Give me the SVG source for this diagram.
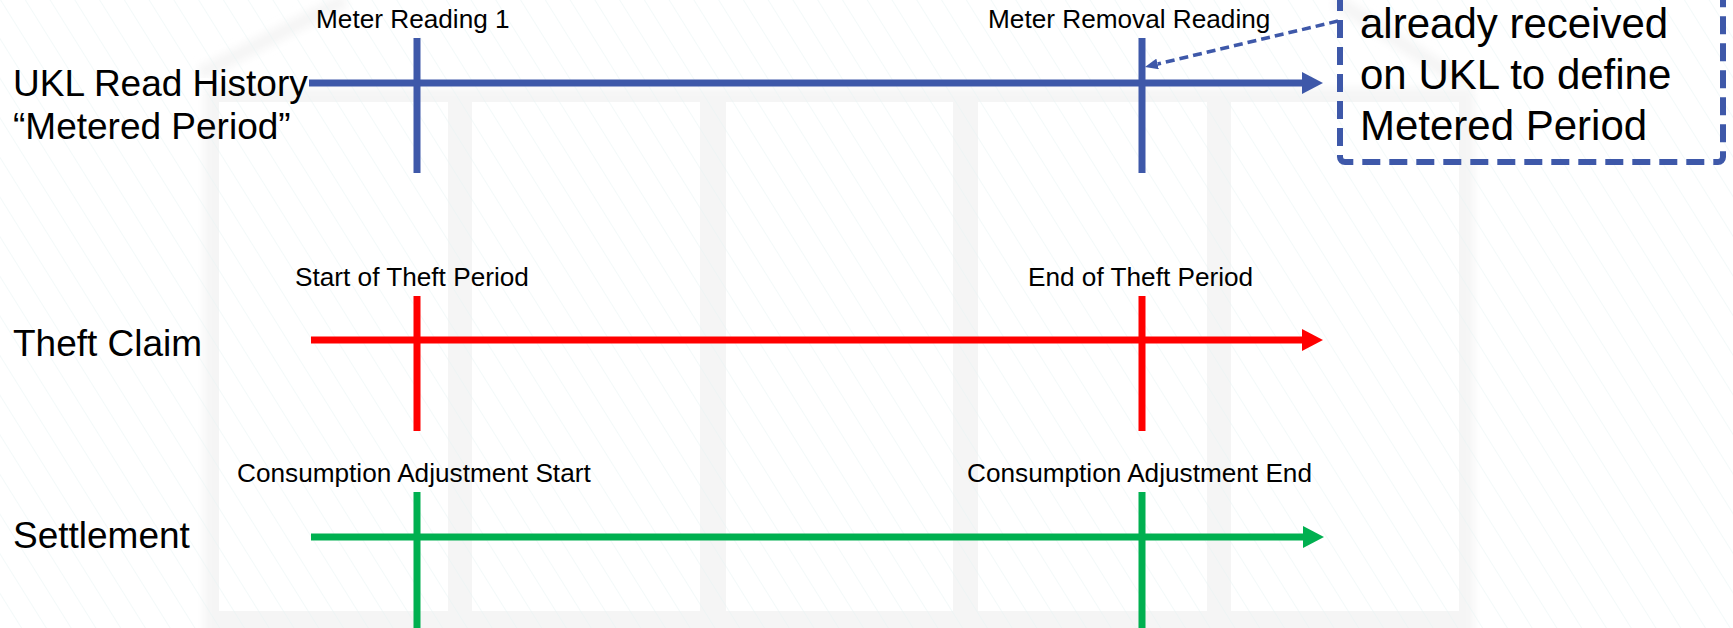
<svg xmlns="http://www.w3.org/2000/svg" width="1733" height="628" viewBox="0 0 1733 628">
<defs>
<style>
.t{font-family:"Liberation Sans",Arial,Helvetica,sans-serif;fill:#000}
.big{font-size:37px}
.sm{font-size:26.2px}
.note{font-size:42px}
.blue{stroke:#3E58A9;stroke-width:7;fill:none}
.red{stroke:#FF0000;stroke-width:7;fill:none}
.green{stroke:#00B050;stroke-width:7;fill:none}
.panel{fill:#ffffff}
</style>
<pattern id="hatch" width="21" height="21" patternUnits="userSpaceOnUse" patternTransform="rotate(-32)">
<line x1="0" y1="0" x2="0" y2="21" stroke="#e8f4f4" stroke-width="1"/>
</pattern>
<filter id="soft" x="-5%" y="-5%" width="110%" height="110%"><feGaussianBlur stdDeviation="4"/></filter>
<marker id="ahBlue" viewBox="0 0 21 22" refX="0" refY="11" markerWidth="21" markerHeight="22" markerUnits="userSpaceOnUse" orient="auto"><path d="M0,0 L21,11 L0,22 Z" fill="#3E58A9"/></marker>
<marker id="ahRed" viewBox="0 0 21 22" refX="0" refY="11" markerWidth="21" markerHeight="22" markerUnits="userSpaceOnUse" orient="auto"><path d="M0,0 L21,11 L0,22 Z" fill="#FF0000"/></marker>
<marker id="ahGreen" viewBox="0 0 21 22" refX="0" refY="11" markerWidth="21" markerHeight="22" markerUnits="userSpaceOnUse" orient="auto"><path d="M0,0 L21,11 L0,22 Z" fill="#00B050"/></marker>
<marker id="ahSmall" viewBox="0 0 13 11" refX="0" refY="5.5" markerWidth="13" markerHeight="11" markerUnits="userSpaceOnUse" orient="auto"><path d="M0,0 L13,5.5 L0,11 Z" fill="#3E58A9"/></marker>
</defs>

<g id="background">
<rect x="0" y="0" width="1733" height="628" fill="#ffffff"/>
<rect x="204" y="88" width="1270" height="560" fill="#f5f5f5" filter="url(#soft)"/>
<line x1="200" y1="74" x2="345" y2="0" stroke="#f5f5f5" stroke-width="14" filter="url(#soft)"/>
<line x1="1335" y1="0" x2="1462" y2="82" stroke="#f5f5f5" stroke-width="14" filter="url(#soft)"/>
<rect class="panel" x="219" y="102" width="229" height="509"/>
<rect class="panel" x="472" y="102" width="228" height="509"/>
<rect class="panel" x="726" y="102" width="227" height="509"/>
<rect class="panel" x="978" y="102" width="229" height="509"/>
<rect class="panel" x="1231" y="102" width="228" height="509"/>
<rect x="0" y="0" width="1733" height="628" fill="url(#hatch)"/>
</g>

<g id="connectors">
<line class="blue" x1="309" y1="83" x2="1302" y2="83" marker-end="url(#ahBlue)"/>
<line class="blue" x1="417" y1="38" x2="417" y2="173"/>
<line class="blue" x1="1142" y1="38" x2="1142" y2="173"/>
<line x1="1338" y1="21" x2="1157.6" y2="64" stroke="#3E58A9" stroke-width="3.5" stroke-dasharray="9 5" marker-end="url(#ahSmall)"/>
<line class="red" x1="311" y1="340" x2="1302" y2="340" marker-end="url(#ahRed)"/>
<line class="red" x1="417" y1="296" x2="417" y2="431"/>
<line class="red" x1="1142" y1="296" x2="1142" y2="431"/>
<line class="green" x1="311" y1="537" x2="1303" y2="537" marker-end="url(#ahGreen)"/>
<line class="green" x1="417" y1="492" x2="417" y2="628"/>
<line class="green" x1="1142" y1="492" x2="1142" y2="628"/>
</g>

<g id="row-ukl">
<text class="t big" x="13" y="96">UKL Read History</text>
<text class="t big" x="13" y="139">“Metered Period”</text>
</g>
<g id="row-theft"><text class="t big" x="13" y="356">Theft Claim</text></g>
<g id="row-settlement"><text class="t big" x="13" y="548">Settlement</text></g>

<g id="lbl-meter-reading-1"><text class="t sm" x="316" y="28">Meter Reading 1</text></g>
<g id="lbl-meter-removal"><text class="t sm" x="988" y="28">Meter Removal Reading</text></g>
<g id="lbl-theft-start"><text class="t sm" x="295" y="286">Start of Theft Period</text></g>
<g id="lbl-theft-end"><text class="t sm" x="1028" y="286">End of Theft Period</text></g>
<g id="lbl-adj-start"><text class="t sm" x="237" y="482">Consumption Adjustment Start</text></g>
<g id="lbl-adj-end"><text class="t sm" x="967" y="482">Consumption Adjustment End</text></g>

<g id="note">
<rect x="1340" y="-40" width="383" height="202" rx="5" fill="none" stroke="#3E58A9" stroke-width="6" stroke-dasharray="18 9"/>
<text class="t note" x="1360" y="38">already received</text>
<text class="t note" x="1360" y="89">on UKL to define</text>
<text class="t note" x="1360" y="140">Metered Period</text>
</g>
</svg>
